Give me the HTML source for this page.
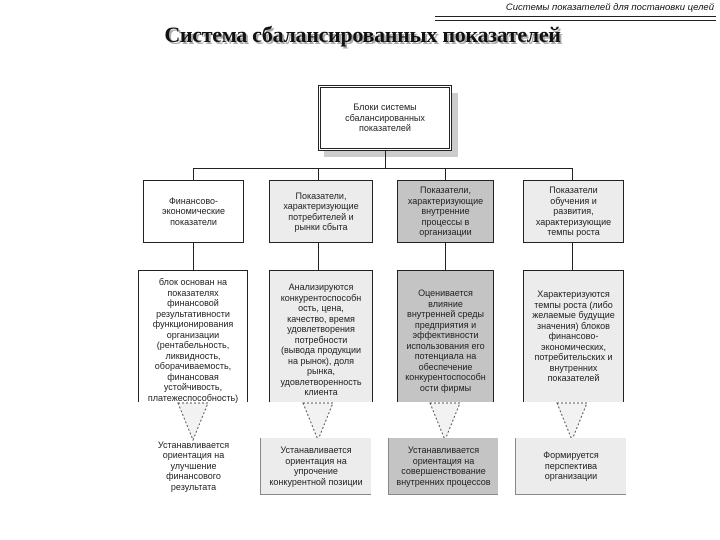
<!DOCTYPE html>
<html><head><meta charset="utf-8"><style>
body{margin:0;width:720px;height:540px;background:#fff;position:relative;overflow:hidden;font-family:"Liberation Sans",sans-serif;}
.a{position:absolute;box-sizing:border-box;display:flex;align-items:center;justify-content:center;text-align:center;font-size:9px;line-height:10.5px;color:#222;}
.b{border:1px solid #222;}
.o{border:1px solid #222;border-bottom:none;align-items:flex-start;padding-top:8px;}
.l{background:#ececec;}
.d{background:#c4c4c4;}
.ln{position:absolute;background:#222;}
</style></head><body>
<div style="position:absolute;right:6px;top:2px;font-size:9.5px;font-style:italic;color:#111;white-space:nowrap;">Системы показателей для постановки целей</div>
<div class="ln" style="left:435px;top:16px;width:281px;height:1px;"></div>
<div class="ln" style="left:435px;top:20px;width:281px;height:1px;"></div>
<div style="position:absolute;left:120px;top:22px;width:485px;text-align:center;white-space:nowrap;font-family:'Liberation Serif',serif;font-weight:bold;font-size:22px;letter-spacing:-0.3px;color:#111;text-shadow:2px 2px 0 #aaa;">Система сбалансированных показателей</div>

<div style="position:absolute;left:324px;top:93px;width:134px;height:64px;background:#ccc;"></div>
<div class="a" style="left:318px;top:85px;width:134px;height:66px;border:3px double #222;background:#fff;">Блоки системы<br>сбалансированных<br>показателей</div>
<div class="ln" style="left:385px;top:151px;width:1px;height:17px;"></div>
<div class="ln" style="left:193px;top:168px;width:380px;height:1px;"></div>

<div class="ln" style="left:193px;top:168px;width:1px;height:102px;"></div>
<div class="ln" style="left:318px;top:168px;width:1px;height:102px;"></div>
<div class="ln" style="left:445px;top:168px;width:1px;height:102px;"></div>
<div class="ln" style="left:572px;top:168px;width:1px;height:102px;"></div>

<div class="a b" style="left:143px;top:180px;width:101px;height:63px;background:#fff;">Финансово-<br>экономические<br>показатели</div>
<div class="a b l" style="left:269px;top:180px;width:104px;height:63px;">Показатели,<br>характеризующие<br>потребителей и<br>рынки сбыта</div>
<div class="a b d" style="left:397px;top:180px;width:97px;height:63px;">Показатели,<br>характеризующие<br>внутренние<br>процессы в<br>организации</div>
<div class="a b l" style="left:523px;top:180px;width:101px;height:63px;">Показатели<br>обучения и<br>развития,<br>характеризующие<br>темпы роста</div>

<div class="a o" style="left:138px;top:270px;width:110px;height:132px;background:#fff;padding-top:6px;">блок основан на<br>показателях<br>финансовой<br>результативности<br>функционирования<br>организации<br>(рентабельность,<br>ликвидность,<br>оборачиваемость,<br>финансовая<br>устойчивость,<br>платежеспособность)</div>
<div class="a o l" style="left:269px;top:270px;width:104px;height:132px;padding-top:11px;">Анализируются<br>конкурентоспособн<br>ость, цена,<br>качество, время<br>удовлетворения<br>потребности<br>(вывода продукции<br>на рынок), доля<br>рынка,<br>удовлетворенность<br>клиента</div>
<div class="a o d" style="left:397px;top:270px;width:97px;height:132px;padding-top:17px;">Оценивается<br>влияние<br>внутренней среды<br>предприятия и<br>эффективности<br>использования его<br>потенциала на<br>обеспечение<br>конкурентоспособн<br>ости фирмы</div>
<div class="a o l" style="left:523px;top:270px;width:101px;height:132px;padding-top:18px;">Характеризуются<br>темпы роста (либо<br>желаемые будущие<br>значения) блоков<br>финансово-<br>экономических,<br>потребительских и<br>внутренних<br>показателей</div>

<svg style="position:absolute;left:0;top:0" width="720" height="540">
<g fill="#f2f2f2" stroke="#555" stroke-dasharray="2,2" stroke-width="1">
<polygon points="178,403 208,403 193,440"/>
<polygon points="303,403 333,403 318,440"/>
<polygon points="430,403 460,403 445,440"/>
<polygon points="557,403 587,403 572,440"/>
</g></svg>

<div class="a" style="left:143px;top:437px;width:101px;height:58px;">Устанавливается<br>ориентация на<br>улучшение<br>финансового<br>результата</div>
<div class="a l" style="left:260px;top:438px;width:111px;height:57px;border-left:1px solid #888;border-bottom:1px solid #888;">Устанавливается<br>ориентация на<br>упрочение<br>конкурентной позиции</div>
<div class="a d" style="left:388px;top:438px;width:110px;height:57px;border-left:1px solid #888;border-bottom:1px solid #888;">Устанавливается<br>ориентация на<br>совершенствование<br>внутренних процессов</div>
<div class="a l" style="left:515px;top:438px;width:111px;height:57px;border-left:1px solid #888;border-bottom:1px solid #888;">Формируется<br>перспектива<br>организации</div>
</body></html>
